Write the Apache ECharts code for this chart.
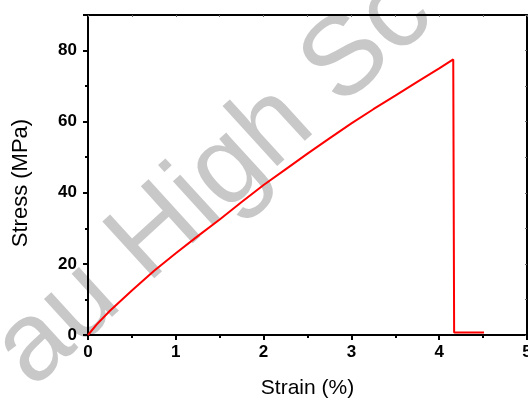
<!DOCTYPE html>
<html>
<head>
<meta charset="utf-8">
<script src="https://cdn.jsdelivr.net/npm/echarts@6/dist/echarts.min.js"></script>
<style>
  html, body { margin: 0; padding: 0; background: #fff; }
  #chart { width: 528px; height: 403px; }
</style>
</head>
<body>
<div id="chart"></div>
<script>
// strain (%) and stress (MPa)
const strain = [0, 0.1, 0.25, 0.5, 0.75, 1, 1.25, 1.5, 1.75, 2, 2.25, 2.5, 2.75, 3, 3.25, 3.5, 3.75, 4, 4.16, 4.17, 4.51];
const stress = [0, 3, 6.8, 12.5, 18, 23, 27.8, 32.5, 37.4, 42.2, 46.6, 51, 55.3, 59.5, 63.5, 67.3, 71.2, 75, 77.5, 0.7, 0.7];
const xTicks = [0, 1, 2, 3, 4, 5];
const yTicks = [0, 20, 40, 60, 80];

let chart = echarts.init(document.getElementById("chart"));

const labelFont = {
  fontFamily: "Liberation Sans, Arial",
  fontWeight: "bold",
  fontSize: 17,
  color: "#000"
};

let option = {
  animation: false,
  grid: { left: 88, right: 1, top: 15, bottom: 68, outerBoundsMode: "none", containLabel: false },
  graphic: [
    {
      // watermark
      type: "text",
      z: -10,
      x: 214,
      y: 182,
      rotation: 0.74,
      style: {
        text: "au High Sc",
        fontFamily: "Liberation Sans, Arial",
        fontSize: 112,
        fill: "#c8c8c8",
        align: "center",
        verticalAlign: "middle"
      }
    }
  ],
  xAxis: [
    {
      type: "value",
      min: 0,
      max: 5,
      interval: 1,
      name: "Strain (%)",
      nameLocation: "middle",
      nameGap: 43,
      nameTextStyle: { fontFamily: "Liberation Sans, Arial", fontSize: 21, color: "#000" },
      axisLine: { show: true, onZero: false, lineStyle: { color: "#000", width: 2 } },
      axisTick: { show: true, length: 5, lineStyle: { color: "#000", width: 2 } },
      minorTick: { show: true, splitNumber: 2, length: 3, lineStyle: { color: "#000", width: 2 } },
      axisLabel: Object.assign({ margin: 9, formatter: v => (xTicks.includes(v) ? v : "") }, labelFont),
      splitLine: { show: false }
    },
    {
      type: "value",
      position: "top",
      min: 0,
      max: 5,
      interval: 0.5,
      axisLine: { show: true, onZero: false, lineStyle: { color: "#000", width: 2 } },
      axisTick: { show: true, inside: true, length: 2, lineStyle: { color: "#666", width: 1 } },
      axisLabel: { show: false },
      splitLine: { show: false }
    }
  ],
  yAxis: [
    {
      type: "value",
      min: 0,
      max: 90,
      interval: 20,
      name: "Stress (MPa)",
      nameLocation: "middle",
      nameGap: 56,
      nameTextStyle: {
        fontFamily: "Liberation Sans, Arial",
        fontSize: 22,
        color: "#000",
        padding: [0, 16, 0, 0]
      },
      axisLine: { show: true, onZero: false, lineStyle: { color: "#000", width: 2 } },
      axisTick: { show: true, length: 5, lineStyle: { color: "#000", width: 2 } },
      axisLabel: Object.assign({ margin: 11, formatter: v => (yTicks.includes(v) ? v : "") }, labelFont),
      splitLine: { show: false }
    },
    {
      // minor ticks every 10
      type: "value",
      position: "left",
      min: 0,
      max: 90,
      interval: 10,
      axisLine: { show: false },
      axisTick: { show: true, length: 3, lineStyle: { color: "#000", width: 2 } },
      axisLabel: { show: false },
      splitLine: { show: false }
    },
    {
      type: "value",
      position: "right",
      min: 0,
      max: 90,
      interval: 10,
      axisLine: { show: true, onZero: false, lineStyle: { color: "#000", width: 2 } },
      axisTick: { show: true, inside: true, length: 2, lineStyle: { color: "#666", width: 1 } },
      axisLabel: { show: false },
      splitLine: { show: false }
    }
  ],
  series: [
    {
      name: "Stress",
      type: "line",
      data: strain.map((x, i) => [x, stress[i]]),
      showSymbol: false,
      symbol: "none",
      lineStyle: { color: "#ff0000", width: 2 },
      z: 5
    }
  ]
};
chart.setOption(option);
</script>
</body>
</html>
